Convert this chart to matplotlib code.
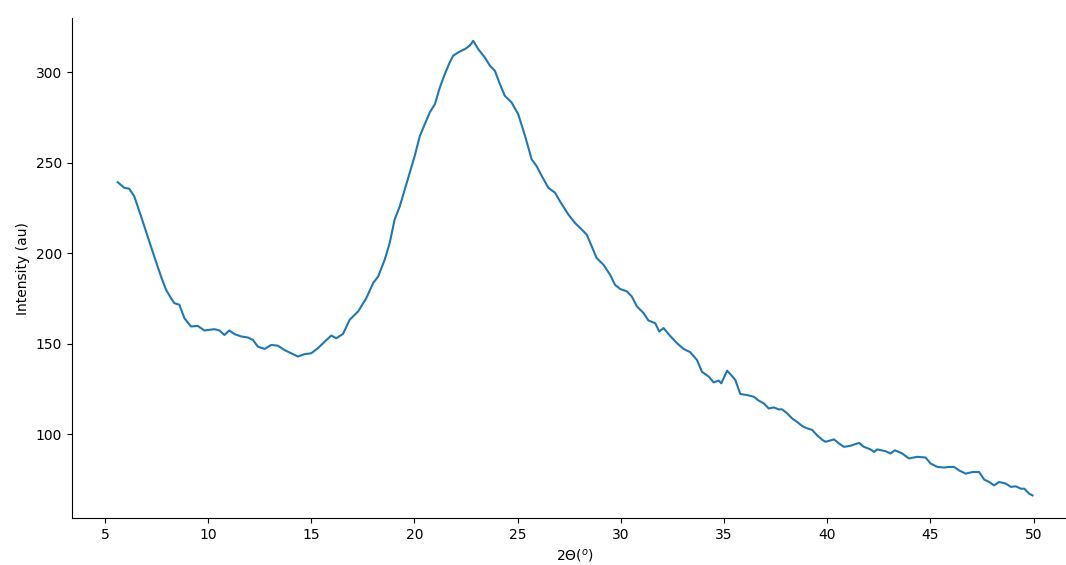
import numpy as np
import matplotlib.pyplot as plt

# XRD pattern
two_theta = [5.62, 5.94, 6.18, 6.42, 6.75, 7.07, 7.39, 7.72, 7.96, 8.20, 8.36, 8.61, 8.85, 9.17, 9.50, 9.82,
             10.31, 10.55, 10.79, 11.03, 11.28, 11.60, 11.93, 12.17, 12.41, 12.74, 13.06, 13.38, 13.70, 14.03,
             14.35, 14.67, 15.00, 15.32, 15.65, 15.97, 16.21, 16.54, 16.86, 17.27, 17.67, 18.00, 18.24, 18.56,
             18.80, 19.04, 19.29, 19.53, 19.77, 20.01, 20.26, 20.50, 20.74, 20.99, 21.23, 21.47, 21.71, 21.87,
             22.12, 22.44, 22.68, 22.85, 23.09, 23.41, 23.66, 23.90, 24.14, 24.38, 24.71, 25.03, 25.36, 25.68,
             25.92, 26.17, 26.49, 26.81, 27.05, 27.46, 27.78, 28.11, 28.35, 28.59, 28.83, 29.16, 29.48, 29.72,
             29.97, 30.29, 30.53, 30.78, 31.10, 31.34, 31.67, 31.86, 32.07, 32.39, 32.72, 33.04, 33.36, 33.69,
             33.93, 34.26, 34.50, 34.74, 34.87, 35.15, 35.39, 35.55, 35.79, 36.12, 36.44, 36.69, 36.93, 37.17,
             37.41, 37.65, 37.82, 38.06, 38.30, 38.54, 38.79, 39.03, 39.27, 39.51, 39.76, 39.92, 40.33, 40.57,
             40.81, 41.13, 41.54, 41.78, 42.10, 42.27, 42.43, 42.83, 43.07, 43.28, 43.64, 43.96, 44.37, 44.77,
             45.01, 45.34, 45.66, 45.91, 46.15, 46.39, 46.71, 47.04, 47.36, 47.61, 47.85, 48.09, 48.33, 48.66,
             48.90, 49.14, 49.38, 49.55, 49.79, 49.95]
intensity = [239.2, 236.1, 235.6, 231.5, 220.4, 209.3, 198.2, 187.1, 179.8, 175.2, 172.4, 171.5, 164.1, 159.5,
             159.8, 157.3, 158.0, 157.3, 154.8, 157.3, 155.3, 154.0, 153.4, 152.1, 148.4, 147.1, 149.3, 148.9,
             146.5, 144.7, 142.9, 144.2, 144.7, 147.5, 151.1, 154.5, 153.0, 155.4, 163.2, 167.8, 175.2, 183.5,
             187.1, 196.4, 205.6, 218.6, 225.9, 235.2, 244.4, 253.6, 264.7, 271.2, 277.7, 282.3, 291.5, 298.9,
             305.4, 309.0, 310.9, 312.7, 314.6, 317.3, 312.7, 308.1, 303.5, 300.7, 293.4, 286.9, 283.2, 276.7,
             264.7, 251.8, 248.1, 242.6, 236.1, 233.4, 228.7, 221.3, 216.7, 213.0, 210.2, 203.8, 197.3, 193.6,
             188.1, 182.5, 180.2, 178.9, 176.1, 170.6, 166.9, 162.8, 161.3, 156.7, 158.6, 154.3, 150.3, 147.1,
             145.3, 141.0, 134.5, 131.8, 128.6, 129.6, 128.1, 135.1, 132.1, 129.9, 122.2, 121.6, 120.7, 118.5,
             117.0, 114.2, 114.8, 113.7, 113.7, 111.5, 108.7, 106.8, 104.5, 103.2, 102.4, 99.4, 96.9, 95.8,
             97.1, 94.9, 93.0, 93.6, 95.2, 93.0, 91.6, 90.2, 91.6, 90.6, 89.3, 91.1, 89.3, 86.6, 87.5, 87.1,
             83.8, 81.9, 81.6, 81.9, 81.9, 80.0, 78.2, 79.1, 79.1, 74.9, 73.6, 71.7, 73.6, 72.7, 70.9, 71.2,
             69.9, 69.9, 67.1, 66.2]
x_ticks = [5, 10, 15, 20, 25, 30, 35, 40, 45, 50]

fig = plt.figure(figsize=(10.66, 5.65), dpi=100)
ax = fig.add_axes([0.0675, 0.083, 0.944, 0.885])
ax.plot(two_theta, intensity)
ax.set_xticks(x_ticks)
ax.set_xlabel('2Θ($^o$)')
ax.set_ylabel('Intensity (au)')
ax.spines['top'].set_visible(False)
ax.spines['right'].set_visible(False)

fig.savefig('out.png', dpi=100)
